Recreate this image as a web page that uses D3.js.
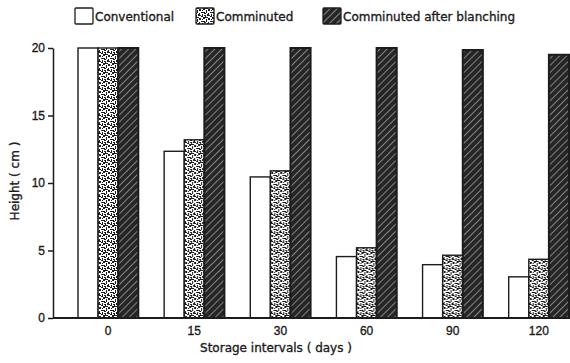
<!DOCTYPE html>
<html>
<head>
<meta charset="utf-8">
<script src="https://cdn.jsdelivr.net/npm/d3@7"></script>
<style>
  body { margin: 0; background: #fff; }
  svg { font-family: "DejaVu Sans", sans-serif; }
  text { stroke: #1c1c1c; stroke-width: 0.35px; }
</style>
</head>
<body>
<svg id="chart" width="570" height="363"></svg>
<script>
const intervals = ["0", "15", "30", "60", "90", "120"];
const seriesNames = ["Conventional", "Comminuted", "Comminuted after blanching"];
const conventional = [20, 12.35, 10.45, 4.55, 3.95, 3.05];
const comminuted = [20, 13.2, 10.9, 5.2, 4.65, 4.35];
const blanched = [20, 20, 20, 20, 19.85, 19.5];
const yTicks = [0, 5, 10, 15, 20];

const series = [conventional, comminuted, blanched];
const fills = ["#fff", "url(#speckle)", "url(#hatch)"];
const ink = "#1c1c1c";

const svg = d3.select("#chart");
const margin = {top: 48, left: 53, bottom: 45};

// patterns
const defs = svg.append("defs");
const sp = defs.append("pattern").attr("id", "speckle")
    .attr("patternUnits", "userSpaceOnUse").attr("width", 9).attr("height", 9);
sp.append("rect").attr("width", 9).attr("height", 9).attr("fill", "#fff");
[[0,0,3,1],[3,1,2,2],[7,0,2,2],[1,2,1,3],[5,4,3,1],[2,6,2,2],[6,6,1,3],[0,7,1,2],
 [4,2,1,1],[8,4,1,2],[3,5,1,1],[5,8,2,1],[6,2,1,1],[0,5,1,1],[4,7,1,1],[8,7,1,1]]
  .forEach(d => sp.append("rect").attr("x", d[0]).attr("y", d[1])
      .attr("width", d[2]).attr("height", d[3]).attr("fill", ink));

const hp = defs.append("pattern").attr("id", "hatch")
    .attr("patternUnits", "userSpaceOnUse").attr("width", 5).attr("height", 5)
    .attr("patternTransform", "rotate(45)");
hp.append("rect").attr("width", 5).attr("height", 5).attr("fill", "#262626");
hp.append("line").attr("x1", 0).attr("y1", 0).attr("x2", 0).attr("y2", 5)
    .attr("stroke", "#e0e0e0").attr("stroke-width", 1);

const y = d3.scaleLinear().domain([0, 20]).range([318, margin.top]);
const x0 = d3.scaleBand().domain(intervals).range([78, 569]).paddingInner(0.3);
const x1 = d3.scaleBand().domain(d3.range(3)).range([0, x0.bandwidth()]);

// bars
const groups = svg.append("g").selectAll("g").data(intervals).join("g")
    .attr("transform", d => `translate(${x0(d)},0)`);
groups.selectAll("rect")
    .data((d, i) => series.map((s, k) => ({k, v: s[i]})))
    .join("rect")
    .attr("x", d => x1(d.k))
    .attr("y", d => y(d.v))
    .attr("width", x1.bandwidth())
    .attr("height", d => y(0) - y(d.v))
    .attr("fill", d => fills[d.k])
    .attr("stroke", ink)
    .attr("stroke-width", d => d.k === 2 ? 2 : 1.4);

// y axis
const yAxis = svg.append("g").attr("transform", `translate(${margin.left},0)`)
    .call(d3.axisLeft(y).tickValues(yTicks).tickSize(5).tickSizeOuter(0));
yAxis.select(".domain").attr("stroke", ink).attr("stroke-width", 1.5);
yAxis.selectAll(".tick line").attr("stroke", ink).attr("stroke-width", 1.5);
yAxis.selectAll("text").attr("fill", ink).style("font-size", "12px").attr("x", -8);

// x axis
const xAxis = svg.append("g").attr("transform", `translate(0,${y(0)})`)
    .call(d3.axisBottom(x0).tickSize(0));
xAxis.select(".domain").remove();
xAxis.selectAll("text").attr("fill", ink).style("font-size", "12px").attr("dy", "1.2em");
svg.append("line").attr("x1", margin.left).attr("x2", 570)
    .attr("y1", y(0)).attr("y2", y(0))
    .attr("stroke", ink).attr("stroke-width", 1.8);

// titles
svg.append("text").attr("x", 276).attr("y", 352).attr("text-anchor", "middle")
    .attr("fill", ink).style("font-size", "12px").text("Storage  intervals ( days )");
svg.append("text").attr("transform", "translate(19,181) rotate(-90)")
    .attr("text-anchor", "middle").attr("fill", ink).style("font-size", "12px")
    .text("Height ( cm )");

// legend
const legendX = [75, 196, 323];
const leg = svg.append("g").selectAll("g").data(seriesNames).join("g")
    .attr("transform", (d, i) => `translate(${legendX[i]},8)`);
leg.append("rect").attr("width", 18).attr("height", 16)
    .attr("fill", (d, i) => fills[i]).attr("stroke", ink).attr("stroke-width", 1.3)
    .attr("rx", 1);
leg.append("text").attr("x", 20).attr("y", 13).attr("fill", ink)
    .style("font-size", "12px").text(d => d);
</script>
</body>
</html>
